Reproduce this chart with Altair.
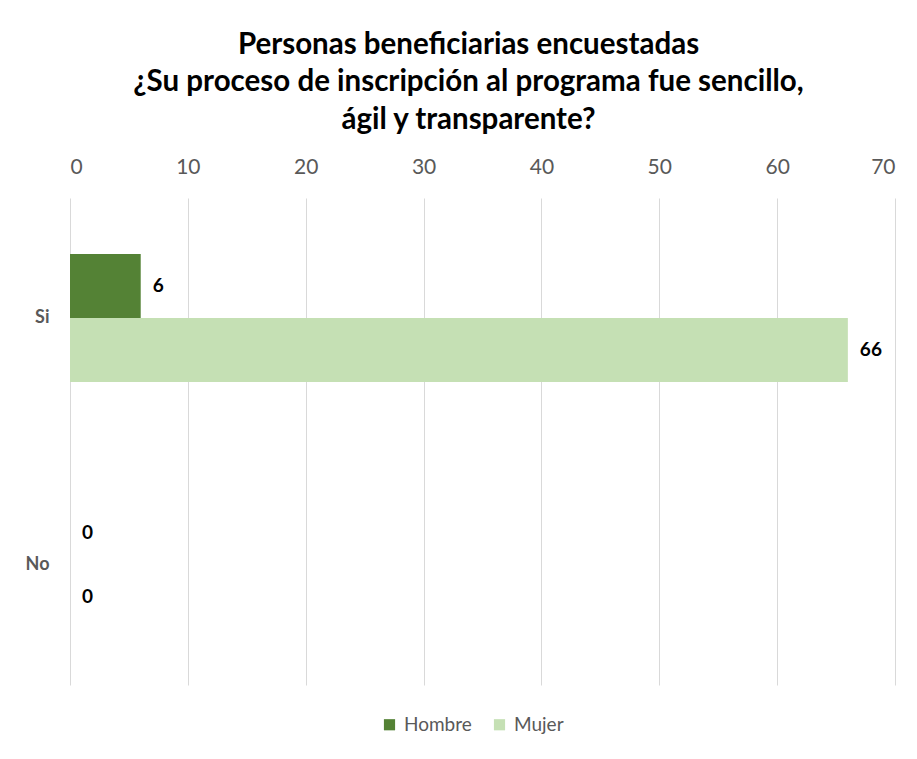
import altair as alt
import pandas as pd

categories = ["Si", "Si", "No", "No"]
series = ["Hombre", "Mujer", "Hombre", "Mujer"]
values = [6, 66, 0, 0]

df = pd.DataFrame({"cat": categories, "serie": series, "valor": values})

FONT = "Lato"
GRAY = "#595959"

y = alt.Y("cat:N", sort=["Si", "No"], title=None,
          scale=alt.Scale(paddingInner=0.482, paddingOuter=0.227),
          axis=alt.Axis(domain=False, ticks=False, labelFontWeight="bold",
                        labelFontSize=18, labelColor=GRAY, labelPadding=21, labelFont=FONT))
x = alt.X("valor:Q", title=None,
          scale=alt.Scale(domain=[0, 70], nice=False),
          axis=alt.Axis(orient="top", values=list(range(0, 71, 10)), domain=False, ticks=False,
                        labelFontSize=21, labelColor=GRAY, labelPadding=21, labelFont=FONT,
                        gridColor="#d9d9d9", grid=True))
color = alt.Color("serie:N", title=None,
                  scale=alt.Scale(domain=["Hombre", "Mujer"], range=["#548235", "#C5E0B4"]),
                  legend=alt.Legend(orient="none", legendX=310, legendY=517,
                                    direction="horizontal", symbolType="square",
                                    symbolSize=125, labelFontSize=19, labelColor=GRAY,
                                    labelFont=FONT, symbolStrokeWidth=0,
                                    columnPadding=18, labelOffset=5))
yoff = alt.YOffset("serie:N", sort=["Hombre", "Mujer"])

bars = alt.Chart(df).mark_bar().encode(x=x, y=y, color=color, yOffset=yoff)
labels = alt.Chart(df).mark_text(align="left", baseline="middle", dx=12, fontSize=19,
                                 fontWeight="bold", color="black", font=FONT).encode(
    x="valor:Q", y=alt.Y("cat:N", sort=["Si", "No"]), yOffset=yoff, text="valor:Q")

chart = (bars + labels).properties(
    width=825, height=487,
    title=alt.TitleParams(
        ["Personas beneficiarias encuestadas",
         "¿Su proceso de inscripción al programa fue sencillo,",
         "ágil y transparente?"],
        fontSize=29.5, font=FONT, fontWeight="bold", color="black",
        lineHeight=37.5, anchor="middle", offset=21, dx=-14),
    autosize=alt.AutoSizeParams(type="none"),
    padding={"left": 62, "top": 190, "right": 14, "bottom": 66},
).configure_view(stroke=None)

chart.save("out.html", embed_options={"renderer": "svg", "actions": False})
